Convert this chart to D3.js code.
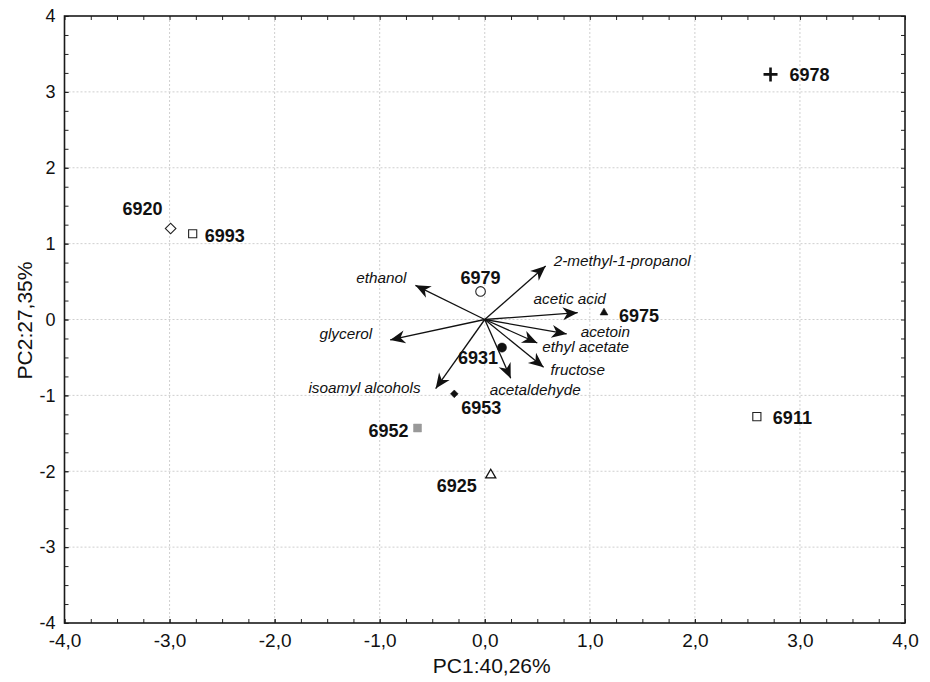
<!DOCTYPE html>
<html lang="en">
<head>
    <meta charset='utf-8'>
    <title>PCA biplot</title>
    <style>
        body{
            margin: 0;
            background: #fff;
        }
        text {
            font-family: "Liberation Sans", Arial, Helvetica, sans-serif;
            fill: #111;
        }
        .tick line { stroke: #222; }
        .domain { display: none; }
    </style>
</head>
<body>
<div id="chart"></div>
<script src="https://cdn.jsdelivr.net/npm/d3@7"></script>
<script>
    var width = 930, height = 682;
    var margin = {top: 16, right: 25, bottom: 59, left: 64.5};

    // samples (scores)
    var samples = ["6978", "6920", "6993", "6979", "6975", "6931", "6953", "6952", "6925", "6911"];
    var pc1 = [2.72, -2.99, -2.78, -0.04, 1.135, 0.164, -0.29, -0.64, 0.057, 2.59];
    var pc2 = [3.23, 1.20, 1.13, 0.37, 0.09, -0.37, -0.98, -1.43, -2.05, -1.28];
    var shapes = ["plus", "diamondOpen", "squareOpen", "circleOpen", "triangle", "circle", "diamond", "squareGray", "triangleOpen", "squareOpen"];

    // variables (loadings)
    var variables = ["2-methyl-1-propanol", "ethanol", "acetic acid", "acetoin", "ethyl acetate",
        "fructose", "acetaldehyde", "isoamyl alcohols", "glycerol"];
    var load1 = [0.58, -0.66, 0.885, 0.78, 0.50, 0.56, 0.247, -0.467, -0.90];
    var load2 = [0.705, 0.45, 0.09, -0.19, -0.31, -0.63, -0.775, -0.91, -0.27];

    var xTicks = [-4, -3, -2, -1, 0, 1, 2, 3, 4];
    var yTicks = [-4, -3, -2, -1, 0, 1, 2, 3, 4];

    // label placement (pixels relative to the mark)
    var sampleLabelPos = {
        "6978": [19, 7, "start"], "6920": [-8, -13, "end"], "6993": [12, 8, "start"],
        "6979": [0, -7, "middle"], "6975": [15, 9, "start"], "6931": [-4, 16, "end"],
        "6953": [7, 20, "start"], "6952": [-9, 9, "end"], "6925": [-14, 17, "end"],
        "6911": [16, 7, "start"]
    };
    var varLabelPos = {
        "2-methyl-1-propanol": [8, 0, "start"], "ethanol": [-9, -2, "end"],
        "acetic acid": [-8, -9, "middle"], "acetoin": [14, 3, "start"],
        "ethyl acetate": [5, 8.5, "start"], "fructose": [7, 8, "start"],
        "acetaldehyde": [-21, 17, "start"], "isoamyl alcohols": [-15, 4, "end"],
        "glycerol": [-18, -1, "end"]
    };

    var svg = d3.select("#chart").append("svg")
        .attr("width", width).attr("height", height);

    var x = d3.scaleLinear().domain([-4, 4]).range([margin.left, width - margin.right]);
    var y = d3.scaleLinear().domain([-4, 4]).range([height - margin.bottom, margin.top]);

    var minor = d3.range(-4, 4.001, 0.25);

    // grid
    var grid = svg.append("g");
    grid.selectAll(".gx").data(xTicks.slice(1, -1)).enter().append("line")
        .attr("x1", function(d){ return x(d); }).attr("x2", function(d){ return x(d); })
        .attr("y1", y(4)).attr("y2", y(-4))
        .attr("stroke", "#cfcfcf").attr("stroke-width", 1).attr("stroke-dasharray", "2,2");
    grid.selectAll(".gy").data(yTicks.slice(1, -1)).enter().append("line")
        .attr("y1", function(d){ return y(d); }).attr("y2", function(d){ return y(d); })
        .attr("x1", x(-4)).attr("x2", x(4))
        .attr("stroke", "#cfcfcf").attr("stroke-width", 1).attr("stroke-dasharray", "2,2");

    // minor ticks on all four sides, pointing in
    svg.append("g").attr("transform", "translate(0," + y(-4) + ")")
        .call(d3.axisBottom(x).tickValues(minor).tickSize(-4).tickFormat(""));
    svg.append("g").attr("transform", "translate(0," + y(4) + ")")
        .call(d3.axisTop(x).tickValues(minor).tickSize(-4).tickFormat(""));
    svg.append("g").attr("transform", "translate(" + x(-4) + ",0)")
        .call(d3.axisLeft(y).tickValues(minor).tickSize(-4).tickFormat(""));
    svg.append("g").attr("transform", "translate(" + x(4) + ",0)")
        .call(d3.axisRight(y).tickValues(minor).tickSize(-4).tickFormat(""));

    // labelled axes
    var xAxis = svg.append("g").attr("transform", "translate(0," + y(-4) + ")")
        .call(d3.axisBottom(x).tickValues(xTicks).tickSize(-4).tickPadding(11)
            .tickFormat(function(d){ return d.toFixed(1).replace(".", ","); }));
    xAxis.selectAll("text").style("font-size", "19px").attr("fill", "#111");
    var yAxis = svg.append("g").attr("transform", "translate(" + x(-4) + ",0)")
        .call(d3.axisLeft(y).tickValues(yTicks).tickSize(-4).tickPadding(9)
            .tickFormat(function(d){ return String(d); }));
    yAxis.selectAll("text").style("font-size", "18px").attr("fill", "#111");

    // frame
    svg.append("rect")
        .attr("x", x(-4)).attr("y", y(4))
        .attr("width", x(4) - x(-4)).attr("height", y(-4) - y(4))
        .attr("fill", "none").attr("stroke", "#1a1a1a").attr("stroke-width", 1.6);

    // axis titles
    svg.append("text")
        .attr("x", x(0) + 7).attr("y", 673)
        .style("text-anchor", "middle").style("font-size", "21px")
        .text("PC1:40,26%");
    svg.append("text")
        .attr("transform", "translate(32," + (y(0) + 1) + ") rotate(-90)")
        .style("text-anchor", "middle").style("font-size", "21px")
        .text("PC2:27,35%");

    // arrowhead
    svg.append("defs").append("marker")
        .attr("id", "arrow")
        .attr("viewBox", "-16 -8 18 16")
        .attr("refX", 0).attr("refY", 0)
        .attr("markerWidth", 18).attr("markerHeight", 16)
        .attr("markerUnits", "userSpaceOnUse")
        .attr("orient", "auto")
        .append("path")
        .attr("d", "M0,0L-15,-6.5L-10.5,0L-15,6.5Z")
        .attr("fill", "#111");

    var vecs = variables.map(function(v, i){ return {name: v, x: load1[i], y: load2[i]}; });

    svg.selectAll(".vec").data(vecs).enter().append("line")
        .attr("x1", x(0)).attr("y1", y(0))
        .attr("x2", function(d){ return x(d.x); })
        .attr("y2", function(d){ return y(d.y); })
        .attr("stroke", "#111").attr("stroke-width", 1.3)
        .attr("marker-end", "url(#arrow)");

    svg.selectAll(".vlab").data(vecs).enter().append("text")
        .attr("x", function(d){ return x(d.x) + varLabelPos[d.name][0]; })
        .attr("y", function(d){ return y(d.y) + varLabelPos[d.name][1]; })
        .style("text-anchor", function(d){ return varLabelPos[d.name][2]; })
        .style("font-size", "15.3px").style("font-style", "italic")
        .attr("fill", "#222")
        .text(function(d){ return d.name; });

    // symbols
    var plusType = {
        draw: function(ctx, size) {
            var r = Math.sqrt(size) / 2;
            ctx.moveTo(-r, 0); ctx.lineTo(r, 0);
            ctx.moveTo(0, -r); ctx.lineTo(0, r);
        }
    };
    var symbolStyle = {
        plus:         {type: plusType, size: 196, fill: "none", stroke: "#111", sw: 2.6, rot: 0},
        diamondOpen:  {type: d3.symbolSquare, size: 56, fill: "#fff", stroke: "#222", sw: 1.1, rot: 45},
        squareOpen:   {type: d3.symbolSquare, size: 66, fill: "#fff", stroke: "#222", sw: 1.1, rot: 0},
        circleOpen:   {type: d3.symbolCircle, size: 72, fill: "#fff", stroke: "#222", sw: 1.1, rot: 0},
        triangle:     {type: d3.symbolTriangle, size: 26, fill: "#111", stroke: "#111", sw: 0.6, rot: 0},
        circle:       {type: d3.symbolCircle, size: 66, fill: "#111", stroke: "#111", sw: 0.5, rot: 0},
        diamond:      {type: d3.symbolSquare, size: 30, fill: "#111", stroke: "#111", sw: 0.5, rot: 45},
        squareGray:   {type: d3.symbolSquare, size: 64, fill: "#999", stroke: "#999", sw: 0.5, rot: 0},
        triangleOpen: {type: d3.symbolTriangle, size: 44, fill: "#fff", stroke: "#111", sw: 1.3, rot: 0}
    };

    var pts = samples.map(function(s, i){ return {name: s, x: pc1[i], y: pc2[i], shape: shapes[i]}; });

    svg.selectAll(".pt").data(pts).enter().append("path")
        .attr("transform", function(d){
            return "translate(" + x(d.x) + "," + y(d.y) + ") rotate(" + symbolStyle[d.shape].rot + ")";
        })
        .attr("d", function(d){
            var st = symbolStyle[d.shape];
            return d3.symbol().type(st.type).size(st.size)();
        })
        .attr("fill", function(d){ return symbolStyle[d.shape].fill; })
        .attr("stroke", function(d){ return symbolStyle[d.shape].stroke; })
        .attr("stroke-width", function(d){ return symbolStyle[d.shape].sw; });

    svg.selectAll(".plab").data(pts).enter().append("text")
        .attr("x", function(d){ return x(d.x) + sampleLabelPos[d.name][0]; })
        .attr("y", function(d){ return y(d.y) + sampleLabelPos[d.name][1]; })
        .style("text-anchor", function(d){ return sampleLabelPos[d.name][2]; })
        .style("font-size", "18px").style("font-weight", "bold")
        .text(function(d){ return d.name; });
</script>
</body>
</html>
